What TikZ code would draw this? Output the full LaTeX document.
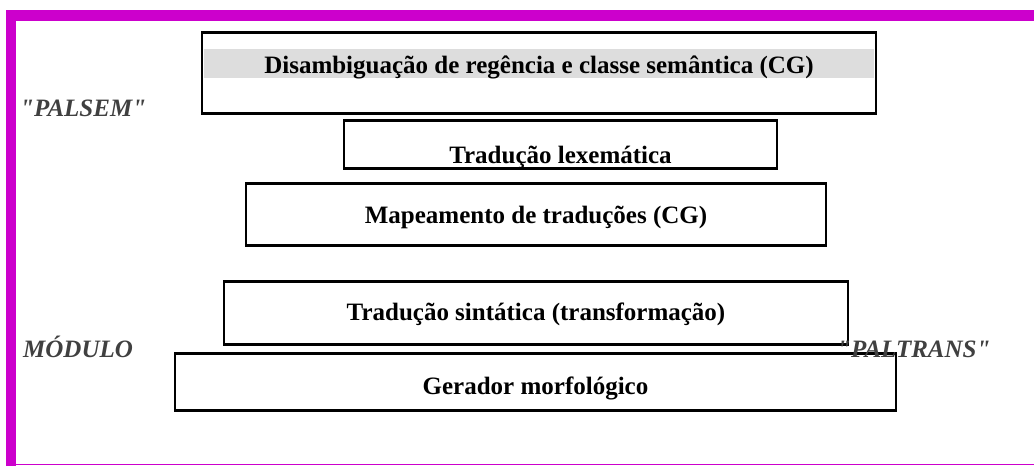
\documentclass[tikz,border=0pt]{standalone}
\usepackage{fontspec}
\setmainfont{Liberation Serif}
\newfontfamily\tagfont{Liberation Serif}
\usepackage{tikz}
\definecolor{frame}{HTML}{CC00CC}
\definecolor{band}{HTML}{DDDDDD}
\definecolor{tag}{HTML}{404040}

\begin{document}
\begin{tikzpicture}[x=1pt,y=-1pt,
    stage/.style={draw,line width=2.5pt,inner sep=0pt,anchor=north,font=\fontsize{25}{30}\selectfont\bfseries},
    tag/.style={anchor=base west,inner sep=0pt,text=tag,font=\tagfont\fontsize{25}{30}\selectfont\bfseries\itshape}]
        \useasboundingbox (0,0) rectangle (1034,466);
        \fill[frame] (6,10) rectangle (1034,21);
        \fill[frame] (6,10) rectangle (16,466);
        \draw[frame,line width=1.5pt] (6,464.5) -- (1034,464.5);

        \fill[band] (204,49) rectangle (874,78);
        \node[stage,minimum width=674pt,text height=41pt,text depth=40pt] (disamb) at (539,31) {Disambiguação de regência e classe semântica (CG)};
        \node[stage,minimum width=433pt,text height=43pt,text depth=5pt] (lexema) at (560.5,119) {Tradução lexemática};
        \node[stage,minimum width=580pt,text height=40pt,text depth=22pt] (mapeamento) at (536,182) {Mapeamento de traduções (CG)};
        \node[stage,minimum width=624pt,text height=39pt,text depth=24pt] (sintatica) at (536,280) {Tradução sintática (transformação)};
        \node[stage,minimum width=721pt,text height=41pt,text depth=16pt] (gerador) at (535.5,352) {Gerador morfológico};

        \node[tag] (palsem) at (20,116) {"PALSEM"};
        \node[tag] (modulo) at (23,357) {MÓDULO};
        \node[tag] (paltrans) at (837,357) {"PALTRANS"};
    \end{tikzpicture}
\end{document}
